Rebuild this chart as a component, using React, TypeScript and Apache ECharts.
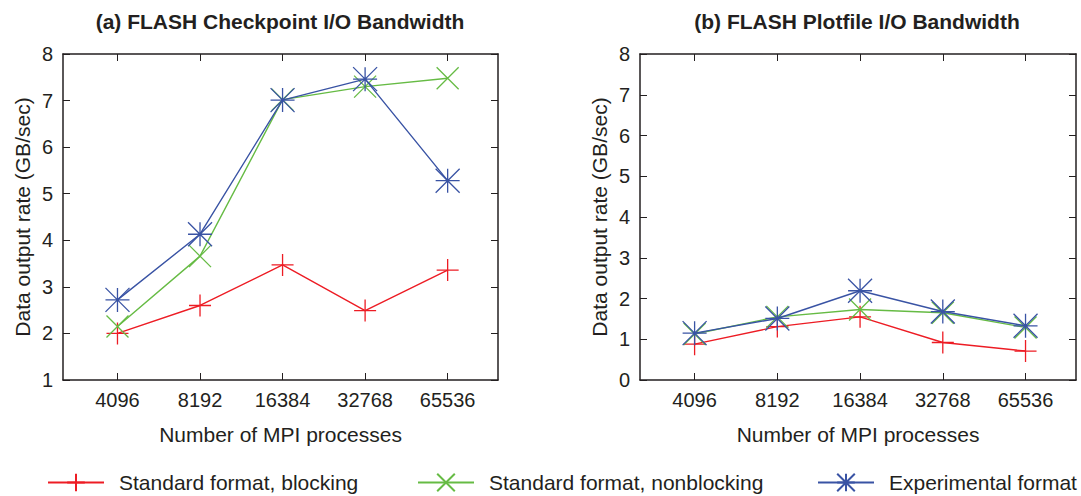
import React, { useEffect, useRef } from "react";
import * as echarts from "echarts";

const categories = ["4096", "8192", "16384", "32768", "65536"];
const seriesNames = ["Standard format, blocking", "Standard format, nonblocking", "Experimental format"];

const ckptBlocking = [2.0, 2.6, 3.47, 2.49, 3.36];
const ckptNonblocking = [2.15, 3.66, 7.02, 7.3, 7.48];
const ckptExperimental = [2.72, 4.13, 7.01, 7.46, 5.28];

const plotBlocking = [0.88, 1.31, 1.55, 0.92, 0.71];
const plotNonblocking = [1.13, 1.55, 1.73, 1.65, 1.29];
const plotExperimental = [1.15, 1.51, 2.19, 1.68, 1.33];

const titles = ["(a) FLASH Checkpoint I/O Bandwidth", "(b) FLASH Plotfile I/O Bandwidth"];

const FONT = "'Liberation Sans', Arial, Helvetica, sans-serif";
const TEXT = "#231f20";
const FRAME = "#231f20";
const COLORS = ["#ed1c24", "#66bb44", "#3953a4"];
const SYMBOLS = [
  "path://M0,10L20,10M10,0L10,20",
  "path://M0,0L20,20M0,20L20,0",
  "path://M0,10L20,10M10,0L10,20M0,0L20,20M0,20L20,0",
];
const SIZES = [22, 22, 24];

const tickIdx = categories.map((_, i) => i);

function xAxis(gridIndex: number, position: string, labels: boolean) {
  return {
    type: "value",
    gridIndex,
    position,
    min: -0.66,
    max: 4.61,
    axisLine: { show: true, onZero: false, lineStyle: { color: FRAME, width: 1.5 } },
    axisTick: { show: true, inside: true, length: 7, customValues: tickIdx, lineStyle: { color: FRAME, width: 1 } },
    axisLabel: {
      show: labels,
      customValues: tickIdx,
      formatter: (v: number) => categories[Math.round(v)] ?? "",
      margin: 10,
      fontSize: 20,
      color: TEXT,
      fontFamily: FONT,
    },
    splitLine: { show: false },
    name: labels ? "Number of MPI processes" : "",
    nameLocation: "middle",
    nameGap: 44,
    nameTextStyle: { fontSize: 21, color: TEXT, fontFamily: FONT },
  };
}

function yAxis(gridIndex: number, position: string, labels: boolean, min: number) {
  return {
    type: "value",
    gridIndex,
    position,
    min,
    max: 8,
    interval: 1,
    axisLine: { show: true, onZero: false, lineStyle: { color: FRAME, width: 1.5 } },
    axisTick: { show: true, inside: true, length: 7, lineStyle: { color: FRAME, width: 1 } },
    axisLabel: { show: labels, margin: 10, fontSize: 20, color: TEXT, fontFamily: FONT },
    splitLine: { show: false },
    name: labels ? "Data output rate (GB/sec)" : "",
    nameLocation: "middle",
    nameGap: 30,
    nameTextStyle: { fontSize: 21, color: TEXT, fontFamily: FONT },
  };
}

function makeSeries(values: number[], k: number, axisBase: number) {
  return {
    type: "line",
    name: seriesNames[k],
    xAxisIndex: axisBase,
    yAxisIndex: axisBase,
    data: values.map((v, i) => [i, v]),
    symbol: SYMBOLS[k],
    symbolSize: SIZES[k],
    showAllSymbol: true,
    lineStyle: { color: COLORS[k], width: 1.4 },
    itemStyle: { color: COLORS[k], borderColor: COLORS[k], borderWidth: 1.3 },
    z: 2 + k,
  };
}

export default function App() {
  const ref = useRef<HTMLDivElement>(null);
  useEffect(() => {
    if (!ref.current) return;
    const chart = echarts.init(ref.current, undefined, { renderer: "svg" });
    const legendLefts = [47, 417, 817];
    chart.setOption({
      animation: false,
      backgroundColor: "#ffffff",
      title: [
        {
          text: titles[0],
          left: 280,
          top: 11,
          padding: 0,
          textAlign: "center",
          textStyle: { fontSize: 21, fontWeight: "bold", color: TEXT, fontFamily: FONT },
        },
        {
          text: titles[1],
          left: 857,
          top: 11,
          padding: 0,
          textAlign: "center",
          textStyle: { fontSize: 21, fontWeight: "bold", color: TEXT, fontFamily: FONT },
        },
      ],
      legend: seriesNames.map((n, k) => ({
        data: [n],
        left: legendLefts[k],
        top: 472,
        padding: 0,
        itemWidth: 56,
        itemHeight: 22,
        textStyle: { fontSize: 21, color: TEXT, fontFamily: FONT, padding: [0, 0, 0, 10] },
        selectedMode: false,
      })),
      grid: [
        { left: 63, top: 54, width: 435, height: 326, containLabel: false },
        { left: 640, top: 54, width: 436, height: 326, containLabel: false },
      ],
      xAxis: [xAxis(0, "bottom", true), xAxis(0, "top", false), xAxis(1, "bottom", true), xAxis(1, "top", false)],
      yAxis: [yAxis(0, "left", true, 1), yAxis(0, "right", false, 1), yAxis(1, "left", true, 0), yAxis(1, "right", false, 0)],
      series: [
        makeSeries(ckptBlocking, 0, 0),
        makeSeries(ckptNonblocking, 1, 0),
        makeSeries(ckptExperimental, 2, 0),
        makeSeries(plotBlocking, 0, 2),
        makeSeries(plotNonblocking, 1, 2),
        makeSeries(plotExperimental, 2, 2),
      ],
    });
    return () => chart.dispose();
  }, []);
  return (
    <div
      ref={ref}
      style={{ position: "absolute", left: 0, top: 0, width: 1081, height: 496, background: "#fff" }}
    />
  );
}
